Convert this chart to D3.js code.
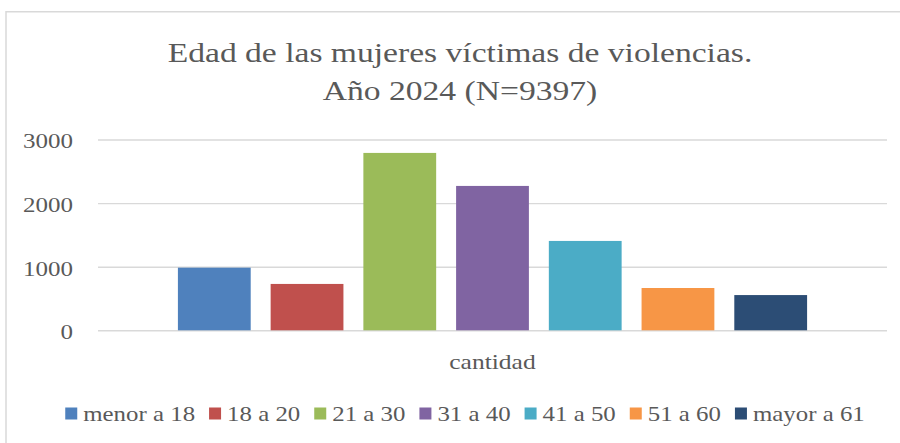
<!DOCTYPE html>
<html>
<head>
<meta charset="utf-8">
<script src="https://cdn.jsdelivr.net/npm/d3@7"></script>
<style>
  html, body { margin: 0; padding: 0; background: #ffffff; }
  svg { display: block; }
  text { font-family: "Liberation Serif", "Times New Roman", serif; fill: #595959; }
</style>
</head>
<body>
<svg id="chart" width="900" height="443"></svg>
<script>
// ---- data ----
const titleLines = ["Edad de las mujeres víctimas de violencias.", "Año 2024 (N=9397)"];
const groupLabel = "cantidad";
const categories = ["menor a 18", "18 a 20", "21 a 30", "31 a 40", "41 a 50", "51 a 60", "mayor a 61"];
const values = [985, 729, 2789, 2270, 1405, 665, 554];
const tickValues = [0, 1000, 2000, 3000];

// ---- style ----
const palette = ["#4F81BD", "#C0504D", "#9BBB59", "#8064A2", "#4BACC6", "#F79646", "#2C4D75"];
const W = 900, H = 443;
const plot = { left: 98, right: 887, top: 139.5, bottom: 330.3 };

const svg = d3.select("#chart");

// chart border
svg.append("rect")
  .attr("x", 6).attr("y", 11.75)
  .attr("width", 1000).attr("height", 1000)
  .attr("fill", "none").attr("stroke", "#d9d9d9").attr("stroke-width", 1.5);

// helper: horizontally stretched text
function stretchedText(parent, x, y, str, size, k, anchor) {
  const g = parent.append("g").attr("transform", `translate(${x},${y}) scale(${k},1)`);
  return g.append("text").attr("x", 0).attr("y", 0)
    .attr("font-size", size).attr("text-anchor", anchor || "start").text(str);
}

// title
const titleY = [61.5, 100];
titleLines.forEach((t, i) => stretchedText(svg, 460, titleY[i], t, 28, 1.2, "middle"));

// scales
const y = d3.scaleLinear().domain([0, 3000]).range([plot.bottom, plot.top]);
const x0 = d3.scaleBand().domain([groupLabel]).range([plot.left, plot.right]).paddingOuter(0.127).paddingInner(0);
const x1 = d3.scaleBand().domain(categories)
  .range([x0(groupLabel), x0(groupLabel) + x0.bandwidth()]).paddingInner(0.215).paddingOuter(0);

// y axis with gridlines
const yAxis = svg.append("g")
  .attr("transform", `translate(${plot.left},0)`)
  .call(d3.axisLeft(y).tickValues(tickValues).tickFormat(d3.format("d"))
        .tickSize(-(plot.right - plot.left)).tickPadding(25));
yAxis.select(".domain").remove();
yAxis.selectAll(".tick line").attr("stroke", "#d9d9d9").attr("stroke-width", 1.4);
yAxis.selectAll(".tick text")
  .attr("font-size", 20).attr("fill", "#595959")
  .attr("font-family", "Liberation Serif, serif")
  .attr("x", null).attr("dy", "0.34em")
  .attr("transform", "translate(-25,1.5) scale(1.25,1)");

// bars
svg.append("g").selectAll("rect")
  .data(categories.map((c, i) => ({ c, v: values[i], i })))
  .join("rect")
  .attr("x", d => x1(d.c))
  .attr("y", d => y(d.v))
  .attr("width", x1.bandwidth())
  .attr("height", d => y(0) - y(d.v))
  .attr("fill", d => palette[d.i]);

// category label
stretchedText(svg, x0(groupLabel) + x0.bandwidth() / 2, 369, groupLabel, 22, 1.16, "middle");

// legend
const legend = svg.append("g");
const legK = 1.13, legSize = 22, sw = 12, gapText = 6, gapItem = 14;
let cx = 0;
categories.forEach((c, i) => {
  const g = legend.append("g");
  g.append("rect").attr("x", cx).attr("y", 407.5).attr("width", sw).attr("height", sw).attr("fill", palette[i]);
  const t = stretchedText(g, cx + sw + gapText, 420.5, c, legSize, legK, "start");
  const w = t.node().getComputedTextLength() * legK;
  cx += sw + gapText + w + gapItem;
});
const totalW = cx - gapItem;
legend.attr("transform", `translate(${465 - totalW / 2},0)`);
</script>
</body>
</html>
